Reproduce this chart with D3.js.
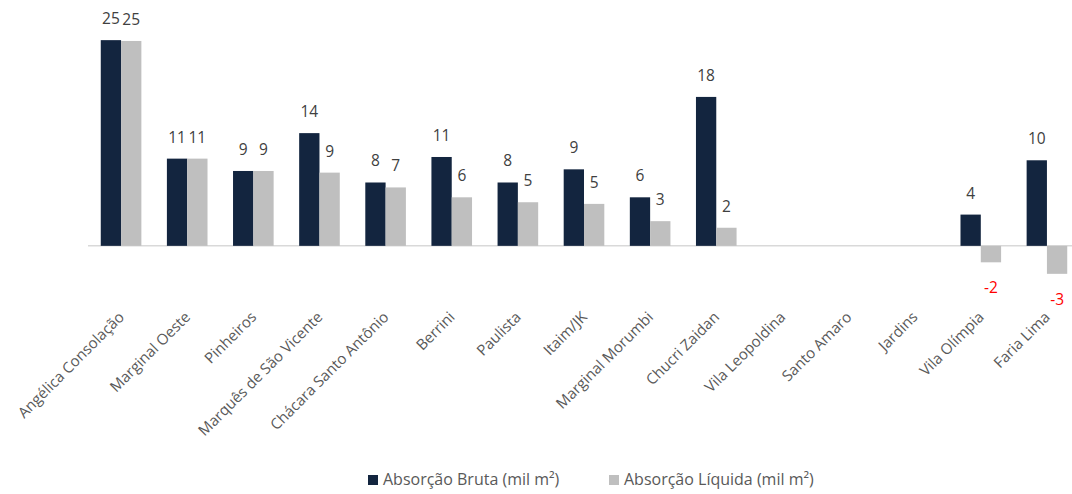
<!DOCTYPE html>
<html>
<head>
<meta charset="utf-8">
<script src="https://cdn.jsdelivr.net/npm/d3@7"></script>
<style>
  body { margin: 0; background: #fff; }
  text { font-family: 'Open Sans', sans-serif; }
</style>
</head>
<body>
<div id="chart"></div>
<script>
    var width = 1072, height = 494;

    var regions = ['Angélica Consolação', 'Marginal Oeste', 'Pinheiros', 'Marquês de São Vicente',
        'Chácara Santo Antônio', 'Berrini', 'Paulista', 'Itaim/JK', 'Marginal Morumbi',
        'Chucri Zaidan', 'Vila Leopoldina', 'Santo Amaro', 'Jardins', 'Vila Olímpia', 'Faria Lima'];

    // values (mil m²)
    var bruta   = [25.0, 10.6, 9.1, 13.7, 7.7, 10.8, 7.7, 9.3, 5.9, 18.1, 0, 0, 0, 3.8, 10.4];
    var liquida = [24.9, 10.6, 9.1, 8.9, 7.1, 5.9, 5.3, 5.1, 3.0, 2.2, 0, 0, 0, -2.0, -3.4];

    var series = ['Absorção Bruta (mil m²)', 'Absorção Líquida (mil m²)'];
    var colors = ['#13253f', '#bfbfbf'];

    var svg = d3.select('#chart').append('svg')
        .attr('width', width)
        .attr('height', height);

    var x = d3.scaleBand()
        .domain(regions)
        .range([88, 1080])
        .paddingInner(0.386)
        .paddingOuter(0.193);

    var x1 = d3.scaleBand()
        .domain([0, 1])
        .range([0, x.bandwidth()]);

    var y = d3.scaleLinear()
        .domain([-5, 30])
        .range([287, -1]);

    var rows = regions.map(function(r, i){ return {region: r, vals: [bruta[i], liquida[i]]}; });

    // baseline
    svg.append('line')
        .attr('x1', 88).attr('x2', width)
        .attr('y1', y(0)).attr('y2', y(0))
        .attr('stroke', '#d9d9d9')
        .attr('stroke-width', 1.5);

    var g = svg.selectAll('g.grp')
        .data(rows)
        .enter().append('g')
        .attr('class', 'grp')
        .attr('transform', function(d){ return 'translate(' + x(d.region) + ',0)'; });

    g.selectAll('rect')
        .data(function(d){ return d.vals.map(function(v, k){ return {v: v, k: k}; }); })
        .enter().append('rect')
        .filter(function(d){ return d.v !== 0; })
        .attr('x', function(d){ return x1(d.k); })
        .attr('width', x1.bandwidth())
        .attr('y', function(d){ return y(Math.max(0, d.v)); })
        .attr('height', function(d){ return Math.abs(y(d.v) - y(0)); })
        .attr('fill', function(d){ return colors[d.k]; });

    g.selectAll('text.val')
        .data(function(d){ return d.vals.map(function(v, k){ return {v: v, k: k}; }); })
        .enter().filter(function(d){ return d.v !== 0; })
        .append('text')
        .attr('class', 'val')
        .attr('x', function(d){ return x1(d.k) + x1.bandwidth() / 2; })
        .attr('y', function(d){ return d.v > 0 ? y(d.v) - 16 : y(d.v) + 31; })
        .attr('text-anchor', 'middle')
        .attr('font-size', 15.5)
        .attr('fill', function(d){ return d.v < 0 ? '#ff0000' : '#404040'; })
        .text(function(d){ return Math.round(d.v); });

    // category labels
    svg.append('g').selectAll('text')
        .data(regions)
        .enter().append('text')
        .attr('transform', function(d){ return 'translate(' + (x(d) + x.bandwidth() / 2 + 4) + ',' + 318 + ') rotate(-45)'; })
        .attr('text-anchor', 'end')
        .attr('font-size', 15)
        .attr('fill', '#595959')
        .text(function(d){ return d; });

    // legend
    var leg = svg.append('g').selectAll('g')
        .data(series)
        .enter().append('g')
        .attr('transform', function(d, i){ return 'translate(' + [368, 609][i] + ',475)'; });

    leg.append('rect')
        .attr('width', 10).attr('height', 10)
        .attr('fill', function(d, i){ return colors[i]; });

    leg.append('text')
        .attr('x', 15).attr('y', 10)
        .attr('font-size', 16)
        .attr('fill', '#595959')
        .text(function(d){ return d; });
</script>
</body>
</html>
